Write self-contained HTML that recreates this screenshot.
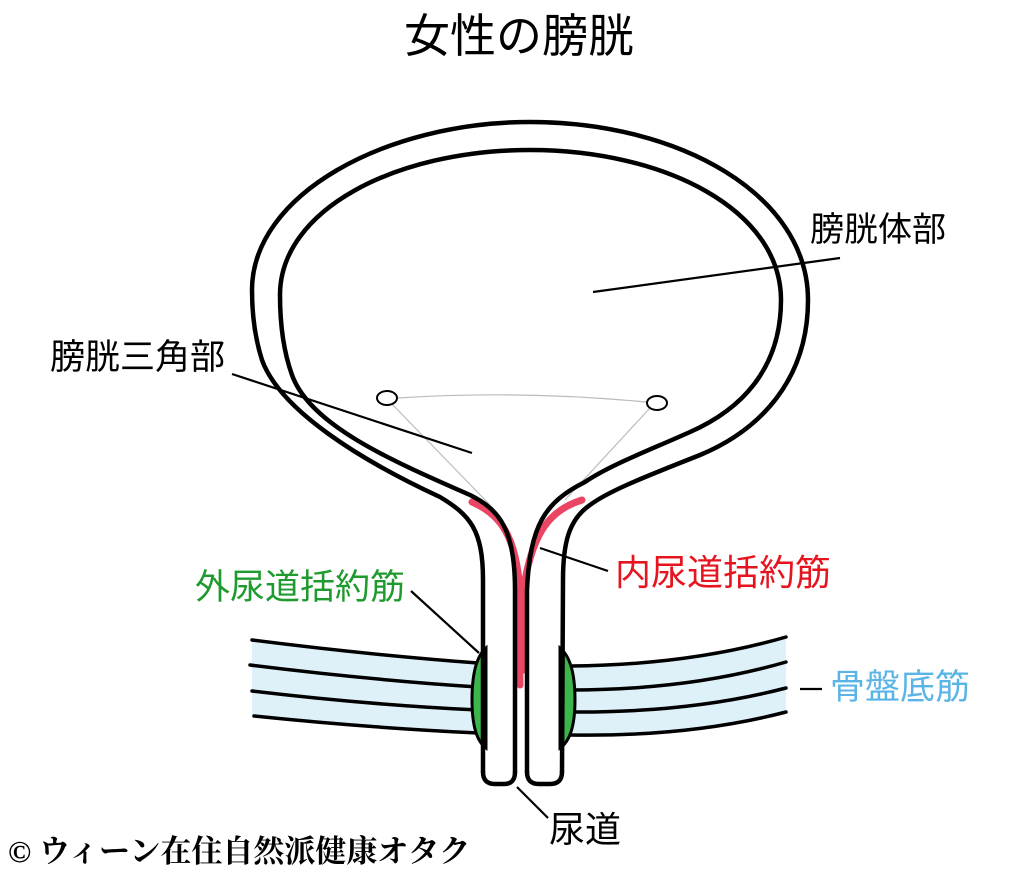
<!DOCTYPE html>
<html><head><meta charset="utf-8"><style>
html,body{margin:0;padding:0;background:#fff;}
body{width:1024px;height:881px;overflow:hidden;position:relative;}
.t{position:absolute;font-family:"Liberation Sans","Noto Sans CJK JP",sans-serif;white-space:nowrap;line-height:1;}
</style></head><body>
<svg width="1024" height="881" viewBox="0 0 1024 881" style="position:absolute;left:0;top:0">
<g fill="#d6ecf6" opacity="0.8">
<path d="M252 642 Q370 655 478 663 L478 733 Q370 728 252 716 Z"/>
<path d="M570 666 Q690 665 786 637 L786 712 Q690 735 570 735 Z"/>
</g>
<g fill="none" stroke="#000" stroke-width="3.5" stroke-linecap="round">
<path d="M252 640 Q370 655 478 663"/>
<path d="M250 665 Q370 680 478 687"/>
<path d="M252 691 Q370 705 478 710"/>
<path d="M254 716 Q370 728 478 733"/>
<path d="M570 666 Q690 665 786 637"/>
<path d="M570 690 Q690 690 786 662"/>
<path d="M570 712 Q690 713 786 688"/>
<path d="M570 735 Q690 737 786 712"/>
</g>
<path d="M486 648 Q472 660 472 700 Q472 738 486 748 Z" fill="#3cb54a" stroke="#000" stroke-width="3"/>
<path d="M560 648 Q575 660 575 700 Q575 738 560 748 Z" fill="#3cb54a" stroke="#000" stroke-width="3"/>
<g fill="none" stroke="#e8254a" stroke-width="7" opacity="0.85" stroke-linecap="round">
<path d="M472 502 C500 514 514 535 519 580 L520 685"/>
<path d="M582 500 C550 510 534 532 525 580 L524 670"/>
</g>
<g fill="none" stroke="#bbb" stroke-width="1.2">
<path d="M398 398 Q520 390 646 402"/>
<path d="M392 404 L490 505"/>
<path d="M650 408 L565 500"/>
</g>
<ellipse cx="387" cy="398" rx="10" ry="7" fill="#fff" stroke="#000" stroke-width="2"/>
<ellipse cx="657" cy="403" rx="10" ry="7" fill="#fff" stroke="#000" stroke-width="2"/>
<g fill="none" stroke="#000" stroke-width="4.5" stroke-linecap="round" stroke-linejoin="round">
<path d="M483 772 L483 580 C483 530 470 515 440 497 C360 460 280 410 262 360 C254 335 252 310 252 290 C252 195 385 122 530 122 C680 122 808 195 808 300 C808 380 760 430 700 455 C650 475 610 490 590 505 C568 520 563 545 563 580 L562 772"/>
<path d="M515 772 L515 590 C515 530 500 510 470 495 C390 460 310 425 292 375 C283 350 280 320 280 295 C280 210 395 150 530 150 C665 150 781 210 781 300 C781 370 740 410 690 432 C650 450 610 465 585 482 C545 502 530 525 527 590 L527 772"/>
<path d="M483 772 Q483 784 495 784 L504 784 Q515 784 515 772"/>
<path d="M527 772 Q527 784 539 784 L550 784 Q562 784 562 772"/>
</g>
<g stroke="#000" stroke-width="2.2" fill="none">
<line x1="840" y1="258" x2="593" y2="292"/>
<line x1="232" y1="374" x2="472" y2="453"/>
<line x1="608" y1="571" x2="540" y2="548"/>
<line x1="411" y1="591" x2="479" y2="653"/>
<line x1="800" y1="689" x2="822" y2="689"/>
<line x1="517" y1="787" x2="548" y2="818"/>
</g>
</svg>
<div class="t" style="left:404px;top:13px;font-size:46px;">女性の膀胱</div>
<div class="t" style="left:810px;top:213px;font-size:34px;">膀胱体部</div>
<div class="t" style="left:50px;top:340px;font-size:35px;">膀胱三角部</div>
<div class="t" style="left:615px;top:555px;font-size:36px;color:#e6141e;">内尿道括約筋</div>
<div class="t" style="left:195px;top:570px;font-size:35px;color:#1f9a2e;">外尿道括約筋</div>
<div class="t" style="left:830px;top:670px;font-size:35px;color:#5ab4e6;">骨盤底筋</div>
<div class="t" style="left:549px;top:812px;font-size:36px;">尿道</div>
<div class="t" style="left:8px;top:836px;font-size:31px;font-weight:bold;font-family:'Liberation Serif','Noto Serif CJK SC',serif;">© ウィーン在住自然派健康オタク</div>
</body></html>
